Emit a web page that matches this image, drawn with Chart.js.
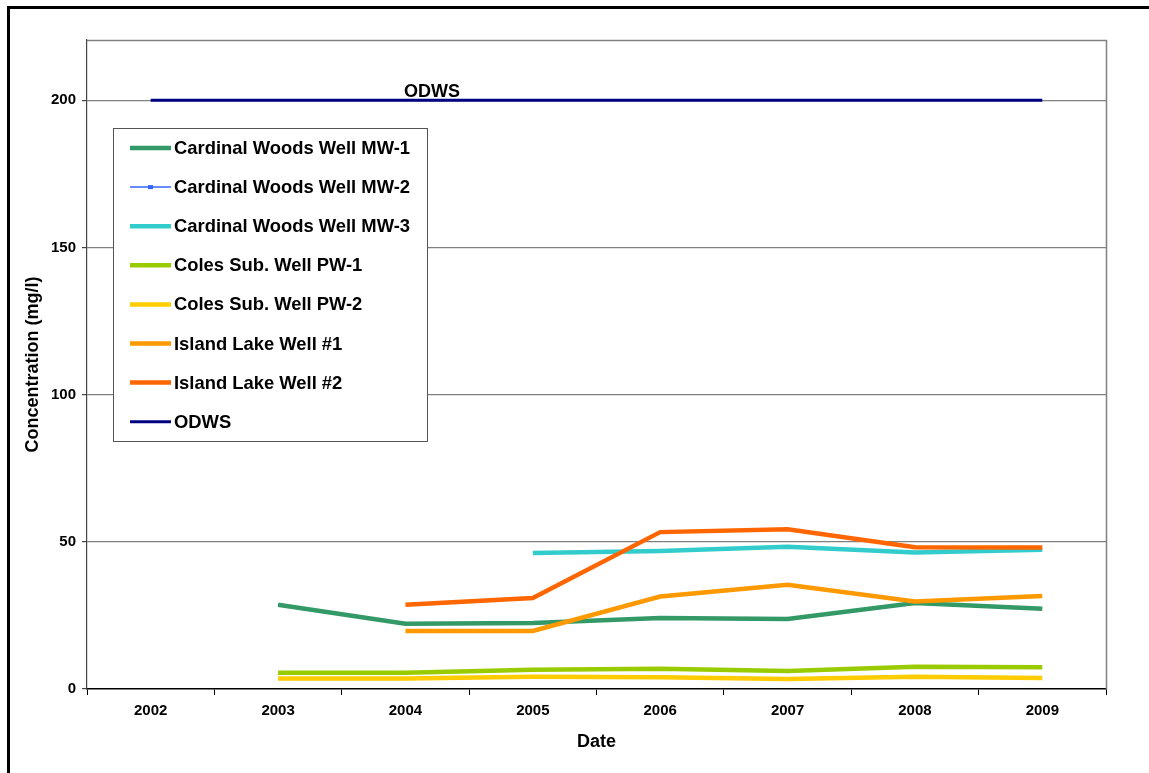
<!DOCTYPE html>
<html>
<head>
<meta charset="utf-8">
<title>Concentration by well, 2002–2009</title>
<script src="https://cdn.jsdelivr.net/npm/chart.js@4/dist/chart.umd.min.js"></script>
<style>
  html, body { margin: 0; padding: 0; background: #fff; }
  #wrap { position: relative; width: 1149px; height: 773px; }
</style>
</head>
<body>
<div id="wrap"><canvas id="chart" width="1149" height="773"></canvas></div>
<script>
// Sampling years (category axis)
const years = ['2002', '2003', '2004', '2005', '2006', '2007', '2008', '2009'];

// Measured concentrations, mg/l (null = no sample that year)
const cardinalMW1 = [null, 28.6, 22.2, 22.4, 24.1, 23.8, 29.2, 27.3];
const cardinalMW2 = [null, null, null, null, null, null, null, null];
const cardinalMW3 = [null, null, null, 46.2, 46.9, 48.3, 46.4, 47.3];
const colesPW1 = [null, 5.5, 5.5, 6.5, 6.9, 6.1, 7.6, 7.4];
const colesPW2 = [null, 3.6, 3.6, 4.2, 4.0, 3.4, 4.2, 3.7];
const islandLake1 = [null, null, 19.7, 19.7, 31.4, 35.4, 29.7, 31.6];
const islandLake2 = [null, null, 28.6, 30.9, 53.3, 54.3, 48.2, 48.1];
// Drinking water standard
const odws = [200, 200, 200, 200, 200, 200, 200, 200];

const yTicks = [0, 50, 100, 150, 200];
const FONT = '"Liberation Sans", Arial, Helvetica, sans-serif';

const series = [
  { label: 'Cardinal Woods Well MW-1', data: cardinalMW1, color: '#339966', width: 4.5 },
  { label: 'Cardinal Woods Well MW-2', data: cardinalMW2, color: '#3366FF', width: 1.5, marker: true },
  { label: 'Cardinal Woods Well MW-3', data: cardinalMW3, color: '#33CCCC', width: 4.5 },
  { label: 'Coles Sub. Well PW-1', data: colesPW1, color: '#99CC00', width: 4.5 },
  { label: 'Coles Sub. Well PW-2', data: colesPW2, color: '#FFCC00', width: 4.5 },
  { label: 'Island Lake Well #1', data: islandLake1, color: '#FF9900', width: 4.5 },
  { label: 'Island Lake Well #2', data: islandLake2, color: '#FF6600', width: 4.5 },
  { label: 'ODWS', data: odws, color: '#000080', width: 3 }
];

const datasets = series.map((s, i) => ({
  label: s.label,
  data: s.data,
  borderColor: s.color,
  backgroundColor: s.color,
  borderWidth: s.width,
  pointRadius: s.marker ? 2 : 0,
  pointStyle: 'rect',
  fill: false,
  tension: 0,
  order: series.length - i
}));

// Outer frame, plot-area border, standard label and boxed legend
const decorations = {
  id: 'decorations',
  beforeDatasetsDraw(chart) {
    const { ctx, chartArea: a } = chart;
    ctx.save();
    ctx.strokeStyle = '#808080';
    ctx.lineWidth = 1.5;
    ctx.beginPath();
    ctx.moveTo(a.left, a.top + 0.5);
    ctx.lineTo(a.right + 0.5, a.top + 0.5);
    ctx.lineTo(a.right + 0.5, a.bottom);
    ctx.stroke();
    ctx.restore();
  },
  afterDraw(chart) {
    const { ctx, chartArea: a, scales } = chart;
    ctx.save();

    // page frame (top and left edges)
    ctx.fillStyle = '#000';
    ctx.fillRect(7, 6, chart.width, 3);
    ctx.fillRect(7, 6, 3, chart.height);

    // ODWS label above the standard line
    const lx = scales.x.getPixelForValue(2) - 1.5;
    const ly = scales.y.getPixelForValue(200) - 3;
    ctx.font = 'bold 18px ' + FONT;
    ctx.fillStyle = '#000';
    ctx.textAlign = 'left';
    ctx.textBaseline = 'alphabetic';
    ctx.fillText('ODWS', lx, ly);

    // legend box
    const bx = a.left + 26, by = a.top + 88, bw = 314, bh = 313;
    ctx.fillStyle = '#fff';
    ctx.fillRect(bx, by, bw, bh);
    ctx.strokeStyle = '#555';
    ctx.lineWidth = 1;
    ctx.strokeRect(bx + 0.5, by + 0.5, bw, bh);

    const rowH = 39.1;
    series.forEach((s, i) => {
      const cy = by + 20 + i * rowH;
      ctx.strokeStyle = s.color;
      ctx.lineWidth = s.width;
      ctx.beginPath();
      ctx.moveTo(bx + 17, cy);
      ctx.lineTo(bx + 58, cy);
      ctx.stroke();
      if (s.marker) {
        ctx.fillStyle = s.color;
        ctx.fillRect(bx + 35, cy - 2, 5, 4);
      }
      ctx.fillStyle = '#000';
      ctx.font = 'bold 18.4px ' + FONT;
      ctx.textBaseline = 'middle';
      ctx.fillText(s.label, bx + 61, cy + 1);
    });
    ctx.restore();
  }
};

new Chart(document.getElementById('chart'), {
  type: 'line',
  data: { labels: years, datasets },
  options: {
    responsive: false,
    animation: false,
    devicePixelRatio: 1,
    layout: { padding: { top: 40, right: 43, bottom: 0, left: 0 } },
    plugins: {
      legend: { display: false },
      tooltip: { enabled: false },
      title: { display: false }
    },
    scales: {
      x: {
        type: 'category',
        offset: true,
        afterFit(scale) { scale.height = 84; },
        grid: {
          offset: true,
          drawOnChartArea: false,
          tickLength: 6,
          color: '#000',
          tickColor: '#000'
        },
        border: { color: '#000', width: 1.5 },
        ticks: {
          color: '#000',
          font: { family: FONT, size: 15, weight: 'bold' },
          padding: 7,
          maxRotation: 0,
          autoSkip: false
        },
        title: {
          display: true,
          text: 'Date',
          color: '#000',
          font: { family: FONT, size: 18, weight: 'bold' },
          padding: { top: 0, bottom: 20 }
        }
      },
      y: {
        min: 0,
        max: 220.5,
        afterFit(scale) { scale.width = 87; },
        afterBuildTicks(scale) { scale.ticks = yTicks.map(v => ({ value: v })); },
        grid: {
          color: ctx => (ctx.tick && ctx.tick.value === 0) ? 'rgba(0,0,0,0)' : '#808080',
          tickColor: '#444',
          tickLength: 5,
          lineWidth: 1.2
        },
        border: { color: '#444', width: 1.2 },
        ticks: {
          color: '#000',
          font: { family: FONT, size: 15, weight: 'bold' },
          padding: 6
        },
        title: {
          display: true,
          text: 'Concentration (mg/l)',
          color: '#000',
          font: { family: FONT, size: 18, weight: 'bold' },
          padding: { top: 22, bottom: 0 }
        }
      }
    }
  },
  plugins: [decorations]
});
</script>
</body>
</html>
